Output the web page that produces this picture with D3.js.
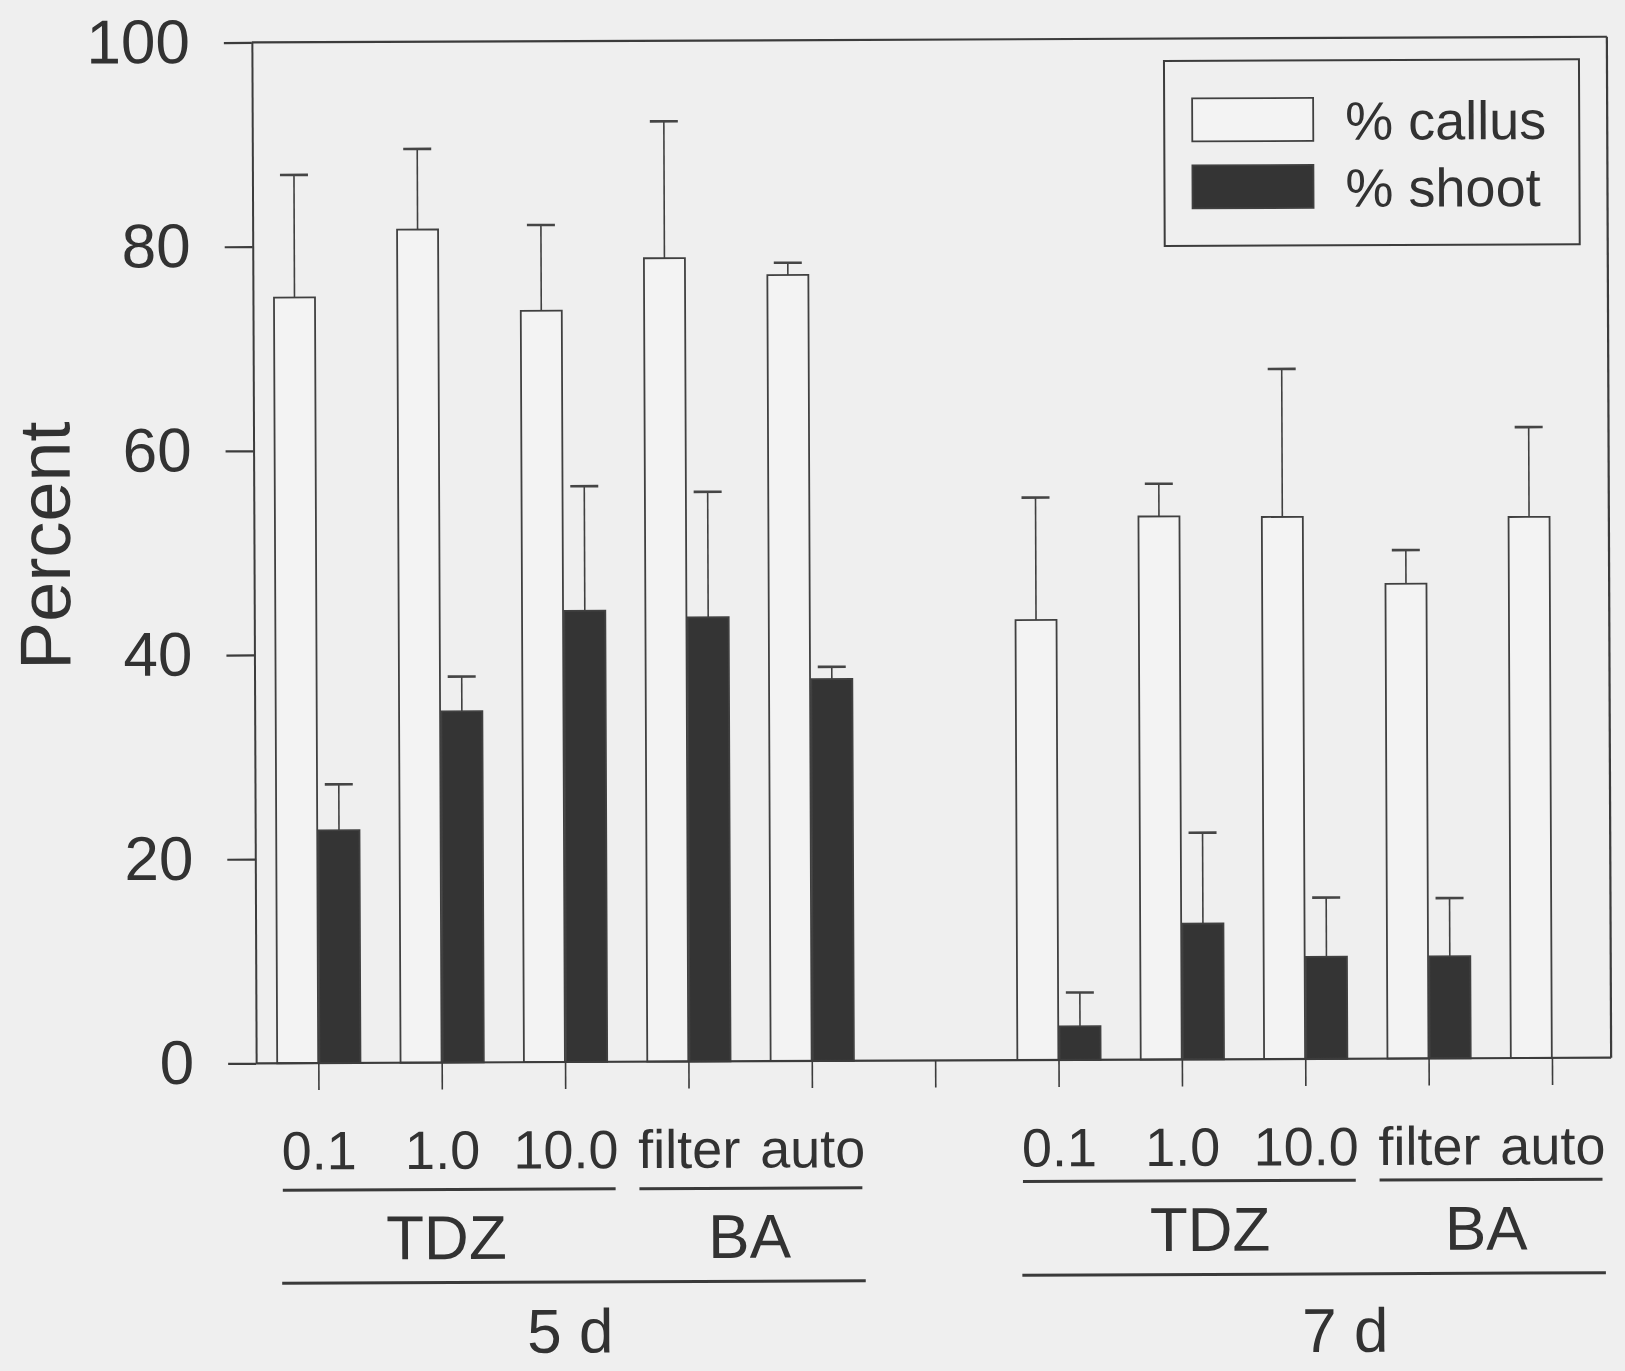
<!DOCTYPE html>
<html>
<head>
<meta charset="utf-8">
<script src="https://cdn.jsdelivr.net/npm/d3@7"></script>
<style>
  html, body { margin: 0; padding: 0; background: #efefef; }
  svg { display: block; }
  text { font-family: "Liberation Sans", Arial, Helvetica, sans-serif; fill: #323232; }
</style>
</head>
<body>
<svg id="chart" width="1625" height="1371"></svg>
<script>
// ---- data -------------------------------------------------------------
const periods = ["5 d", "7 d"];
const treatments = ["0.1", "1.0", "10.0", "filter", "auto"];
const hormones = [
  { name: "TDZ", first: 0, last: 2 },
  { name: "BA",  first: 3, last: 4 }
];
const seriesNames = ["% callus", "% shoot"];
const yTicks = [0, 20, 40, 60, 80, 100];

const callus5    = [75.0, 81.6, 73.6, 78.7, 77.0];
const callusErr5 = [12.0,  7.9,  8.4, 13.4,  1.2];
const shoot5     = [22.8, 34.4, 44.2, 43.5, 37.4];
const shootErr5  = [ 4.5,  3.4, 12.2, 12.3,  1.2];

const callus7    = [43.1, 53.2, 53.1, 46.5, 53.0];
const callusErr7 = [12.0,  3.2, 14.5,  3.3,  8.8];
const shoot7     = [ 3.3, 13.3, 10.0, 10.0,  0.0];
const shootErr7  = [ 3.3,  8.9,  5.8,  5.7,  0.0];

// ---- rows -------------------------------------------------------------
const perPeriod = [
  { callus: callus5, callusErr: callusErr5, shoot: shoot5, shootErr: shootErr5 },
  { callus: callus7, callusErr: callusErr7, shoot: shoot7, shootErr: shootErr7 }
];
const rows = [];
periods.forEach((p, pi) => {
  const s = perPeriod[pi];
  treatments.forEach((t, i) => {
    rows.push({
      key: p + "|" + t, period: p, label: t, index: i,
      callus: s.callus[i], callusErr: s.callusErr[i],
      shoot: s.shoot[i], shootErr: s.shootErr[i]
    });
  });
});
const GAP = "gap";
const categories = [
  ...rows.filter(r => r.period === periods[0]).map(r => r.key),
  GAP,
  ...rows.filter(r => r.period === periods[1]).map(r => r.key)
];
const labelOf = new Map(rows.map(r => [r.key, r.label]));

// ---- layout -----------------------------------------------------------
const W = 1625, H = 1371;
const frame = { left: 254, right: 1609, top: 39.6, bottom: 1060.5 };
const ink = "#3c3c3c";

const svg = d3.select("#chart");
svg.append("rect").attr("width", W).attr("height", H).attr("fill", "#efefef");

// the whole figure sits very slightly tilted
const root = svg.append("g").attr("transform", "rotate(-0.24 930 550)");

const y = d3.scaleLinear().domain([0, 100]).range([frame.bottom, frame.top]);
const x0 = d3.scaleBand().domain(categories).range([255, 1612])
  .paddingInner(0.325).paddingOuter(0.1625);
const x1 = d3.scaleBand().domain(["callus", "shoot"]).range([0, x0.bandwidth()])
  .paddingInner(0.03);

const fills = { callus: "#f3f3f3", shoot: "#343434" };

// ---- x axis (category ticks + labels) --------------------------------
const xAxis = root.append("g")
  .attr("transform", `translate(0,${frame.bottom})`)
  .call(d3.axisBottom(x0)
    .tickSize(27).tickSizeOuter(0).tickPadding(41)
    .tickFormat(k => labelOf.get(k) || ""));
xAxis.select(".domain").remove();
xAxis.selectAll(".tick line").attr("stroke", ink).attr("stroke-width", 1.6);
xAxis.selectAll(".tick text")
  .attr("font-size", 54).attr("fill", "#323232")
  .attr("font-family", "Liberation Sans, Arial, sans-serif");

// ---- bars -------------------------------------------------------------
const groups = root.append("g").selectAll("g.cat")
  .data(rows).join("g").attr("class", "cat")
  .attr("transform", d => `translate(${x0(d.key)},0)`);

["callus", "shoot"].forEach(s => {
  groups.filter(d => d[s] > 0).append("rect")
    .attr("x", x1(s)).attr("width", x1.bandwidth())
    .attr("y", d => y(d[s])).attr("height", d => y(0) - y(d[s]))
    .attr("fill", fills[s]).attr("stroke", "#404040").attr("stroke-width", 1.8);

  const eb = groups.filter(d => d[s + "Err"] > 0);
  const cx = x1(s) + x1.bandwidth() / 2;
  eb.append("line")
    .attr("x1", cx).attr("x2", cx)
    .attr("y1", d => y(d[s])).attr("y2", d => y(d[s] + d[s + "Err"]))
    .attr("stroke", "#404040").attr("stroke-width", 1.6);
  eb.append("line")
    .attr("x1", cx - 14).attr("x2", cx + 14)
    .attr("y1", d => y(d[s] + d[s + "Err"])).attr("y2", d => y(d[s] + d[s + "Err"]))
    .attr("stroke", "#454545").attr("stroke-width", 2.6);
});

// ---- frame + y axis ---------------------------------------------------
const yAxis = root.append("g")
  .attr("transform", `translate(${frame.left},0)`)
  .call(d3.axisLeft(y).tickValues(yTicks).tickSize(28).tickSizeOuter(0).tickPadding(34));
yAxis.select(".domain").attr("stroke", ink).attr("stroke-width", 2);
yAxis.selectAll(".tick line").attr("stroke", ink).attr("stroke-width", 2.2);
yAxis.selectAll(".tick text")
  .attr("font-size", 62).attr("dy", "0.32em").attr("fill", "#323232")
  .attr("font-family", "Liberation Sans, Arial, sans-serif");

const frameLines = [
  [frame.left, y(100), frame.right, y(100)],
  [frame.right, y(100), frame.right, y(0)],
  [frame.left, y(0), frame.right, y(0)]
];
root.append("g").selectAll("line").data(frameLines).join("line")
  .attr("x1", d => d[0]).attr("y1", d => d[1])
  .attr("x2", d => d[2]).attr("y2", d => d[3])
  .attr("stroke", ink).attr("stroke-width", 2.2);

// ---- y label ----------------------------------------------------------
root.append("text")
  .attr("transform", "translate(70,542) rotate(-90)")
  .attr("text-anchor", "middle")
  .attr("font-size", 72)
  .text("Percent");

// ---- legend -----------------------------------------------------------
const legend = root.append("g");
legend.append("rect")
  .attr("x", 1166).attr("y", 62).attr("width", 415).attr("height", 185)
  .attr("fill", "none").attr("stroke", ink).attr("stroke-width", 2);
const legItems = legend.selectAll("g.item")
  .data([{ s: "callus", name: seriesNames[0] }, { s: "shoot", name: seriesNames[1] }])
  .join("g").attr("class", "item")
  .attr("transform", (d, i) => `translate(0,${i * 67})`);
legItems.append("rect")
  .attr("x", 1194).attr("y", 99.5).attr("width", 121).attr("height", 43)
  .attr("fill", d => fills[d.s]).attr("stroke", "#404040").attr("stroke-width", 1.8);
legItems.append("text")
  .attr("x", 1347).attr("y", 141.5)
  .attr("font-size", 54)
  .text(d => d.name);

// ---- grouping brackets under the axis ---------------------------------
const bracketLayout = [
  { subLineY: 1187.5, subTextY: 1257, mainLineY: 1280.5, periodTextY: 1351, subDx: [-3, -1.5], periodDx: -4 },
  { subLineY: 1182,   subTextY: 1252, mainLineY: 1275.6, periodTextY: 1353.5, subDx: [20.5, -5], periodDx: 31 }
];

function labelExtent(key) {
  const tick = xAxis.selectAll(".tick").filter(k => k === key);
  const bb = tick.select("text").node().getBBox();
  const cx = x0(key) + x0.bandwidth() / 2;
  return [cx + bb.x, cx + bb.x + bb.width];
}

const brackets = root.append("g");
periods.forEach((p, pi) => {
  const L = bracketLayout[pi];
  const keys = rows.filter(r => r.period === p).map(r => r.key);
  hormones.forEach((h, hi) => {
    const a = labelExtent(keys[h.first])[0] + 1;
    const b = labelExtent(keys[h.last])[1] - 3;
    brackets.append("line")
      .attr("x1", a).attr("x2", b).attr("y1", L.subLineY).attr("y2", L.subLineY)
      .attr("stroke", "#3a3a3a").attr("stroke-width", 3);
    brackets.append("text")
      .attr("x", (a + b) / 2 + L.subDx[hi]).attr("y", L.subTextY)
      .attr("text-anchor", "middle").attr("font-size", 62)
      .text(h.name);
  });
  const a = labelExtent(keys[0])[0];
  const b = labelExtent(keys[keys.length - 1])[1];
  brackets.append("line")
    .attr("x1", a).attr("x2", b).attr("y1", L.mainLineY).attr("y2", L.mainLineY)
    .attr("stroke", "#3a3a3a").attr("stroke-width", 3);
  brackets.append("text")
    .attr("x", (a + b) / 2 + L.periodDx).attr("y", L.periodTextY)
    .attr("text-anchor", "middle").attr("font-size", 62)
    .text(p);
});
</script>
</body>
</html>
